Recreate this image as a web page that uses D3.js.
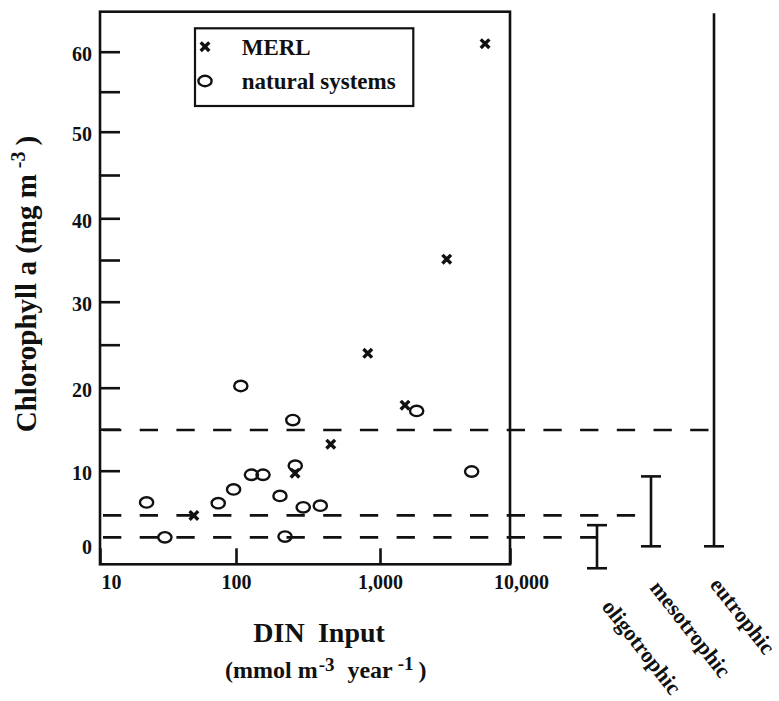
<!DOCTYPE html>
<html>
<head>
<meta charset="utf-8">
<script src="https://cdn.jsdelivr.net/npm/d3@7"></script>
<style>
  html, body { margin: 0; padding: 0; background: #fff; }
  svg { display: block; }
  svg text { font-family: "Liberation Serif", "Times New Roman", serif; font-weight: bold; }
</style>
</head>
<body>
<svg id="chart" width="779" height="701"></svg>
<script>
// DIN input (mmol m-3 yr-1) against chlorophyll a (mg m-3)
const merlDIN = [49, 257, 455, 822, 1557, 3260, 6430];
const merlChl = [4.5, 9.7, 13.2, 24.0, 17.9, 35.1, 61.0];

const naturalDIN = [22, 30, 74, 96, 108, 128, 154, 202, 219, 248, 258, 293, 385, 1914, 5070];
const naturalChl = [6.1, 1.8, 6.0, 7.7, 20.2, 9.5, 9.5, 6.9, 1.9, 16.1, 10.6, 5.5, 5.7, 17.2, 9.9];

// Trophic classes: mean chlorophyll (dashed) and range (bars)
const trophicClasses = ["oligotrophic", "mesotrophic", "eutrophic"];
const trophicMean = [1.8, 4.5, 14.9];
const trophicLow = [-2.0, 0.7, 0.7];
const trophicHigh = [3.3, 9.3, 64.8];

const xTicks = [10, 100, 1000, 10000];
const xTickLabels = ["10", "100", "1,000", "10,000"];
const yMajorTicks = [0, 10, 20, 30, 40, 50, 60];
const yMinorTicks = [15, 25, 35, 45, 55];

const legendLabels = ["MERL", "natural systems"];

// ---- layout ----
const FONT = '"Liberation Serif", "Times New Roman", serif';
const frame = { left: 100, right: 510, top: 11.7, bottom: 564.3 };
const barX = [597, 651, 714];
const labelShift = [[6, -3], [0, 0], [-3, -3]];
const ink = "#111";

const svg = d3.select("#chart");

// hand-ruled axes: piecewise scales follow the printed tick positions
const x = d3.scaleLog()
  .domain([10, 100, 1000, 10000])
  .range([100, 236, 380, 510]);
const y = d3.scaleLinear()
  .domain([0, 10, 20, 30, 40, 50, 60])
  .range([552, 470.7, 387.7, 301.7, 218.3, 131.7, 51.7]);

// plot frame
svg.append("rect")
  .attr("x", frame.left).attr("y", frame.top)
  .attr("width", frame.right - frame.left)
  .attr("height", frame.bottom - frame.top)
  .attr("fill", "none").attr("stroke", ink).attr("stroke-width", 2.6);

// y axis (ticks point inward)
const yAxis = svg.append("g")
  .attr("transform", `translate(${frame.left},0)`)
  .call(d3.axisLeft(y).tickValues(yMajorTicks).tickSize(-20).tickPadding(8))
  .attr("font-family", FONT);
yAxis.select(".domain").remove();
yAxis.selectAll(".tick line").attr("stroke", ink).attr("stroke-width", 2.6)
  .filter(d => d === 0).remove();
yAxis.selectAll(".tick text")
  .attr("font-family", FONT).attr("font-weight", "bold")
  .attr("font-size", 20).attr("fill", ink)
  .attr("dy", d => d === 0 ? "0.07em" : "0.45em");

const yMinor = svg.append("g")
  .attr("transform", `translate(${frame.left},0)`)
  .call(d3.axisLeft(y).tickValues(yMinorTicks).tickSize(-20).tickFormat(""));
yMinor.select(".domain").remove();
yMinor.selectAll(".tick line").attr("stroke", ink).attr("stroke-width", 2.6);

// x axis
const xAxis = svg.append("g")
  .attr("transform", `translate(0,${frame.bottom})`)
  .call(d3.axisBottom(x).tickValues(xTicks)
    .tickFormat((d, i) => xTickLabels[i]).tickSize(-16).tickPadding(11))
  .attr("font-family", FONT);
xAxis.select(".domain").remove();
xAxis.selectAll(".tick line").attr("stroke", ink).attr("stroke-width", 2.6);
xAxis.selectAll(".tick text")
  .attr("font-family", FONT).attr("font-weight", "bold")
  .attr("font-size", 20).attr("fill", ink)
  .attr("dx", (d, i) => (i === 0 || i === xTicks.length - 1) ? 11 : 0);

// dashed class means, running out to each class bar
const classes = trophicClasses.map((name, i) => ({
  name, mean: trophicMean[i], low: trophicLow[i], high: trophicHigh[i],
  bx: barX[i], shift: labelShift[i]
}));

svg.append("g").selectAll("line")
  .data(classes).join("line")
  .attr("x1", frame.left).attr("x2", d => d.bx)
  .attr("y1", d => y(d.mean)).attr("y2", d => y(d.mean))
  .attr("stroke", ink).attr("stroke-width", 2.6)
  .attr("stroke-dasharray", "18.3 18.4")
  .attr("stroke-dashoffset", 33.7);

// class range bars
const bars = svg.append("g").selectAll("g")
  .data(classes).join("g");
bars.append("line")
  .attr("x1", d => d.bx).attr("x2", d => d.bx)
  .attr("y1", d => y(d.high)).attr("y2", d => y(d.low))
  .attr("stroke", ink).attr("stroke-width", 2.6);
bars.append("line")
  .attr("x1", d => d.bx - 10).attr("x2", d => d.bx + 10)
  .attr("y1", d => y(d.low)).attr("y2", d => y(d.low))
  .attr("stroke", ink).attr("stroke-width", 2.6);
bars.filter(d => d.high < 60).append("line")
  .attr("x1", d => d.bx - 10).attr("x2", d => d.bx + 10)
  .attr("y1", d => y(d.high)).attr("y2", d => y(d.high))
  .attr("stroke", ink).attr("stroke-width", 2.6);
bars.append("text")
  .attr("transform", d =>
    `translate(${d.bx + 4 + d.shift[0]},${y(d.low) + 37 + d.shift[1]}) rotate(52)`)
  .attr("dominant-baseline", "central")
  .attr("font-family", FONT).attr("font-weight", "bold")
  .attr("font-size", 22).attr("fill", ink)
  .text(d => d.name);

// markers
const crossPath = "M-4.3,-4.3L4.3,4.3M-4.3,4.3L4.3,-4.3";
function drawCircle(sel) {
  sel.append("ellipse").attr("rx", 6.6).attr("ry", 5.2)
    .attr("fill", "none").attr("stroke", ink).attr("stroke-width", 2.4);
}
function drawCross(sel) {
  sel.append("path").attr("d", crossPath)
    .attr("fill", "none").attr("stroke", ink).attr("stroke-width", 3.4);
}

const natural = naturalDIN.map((d, i) => ({ din: d, chl: naturalChl[i] }));
const merl = merlDIN.map((d, i) => ({ din: d, chl: merlChl[i] }));

svg.append("g").selectAll("g")
  .data(natural).join("g")
  .attr("transform", d => `translate(${x(d.din)},${y(d.chl)})`)
  .call(drawCircle);

svg.append("g").selectAll("g")
  .data(merl).join("g")
  .attr("transform", d => `translate(${x(d.din)},${y(d.chl)})`)
  .call(drawCross);

// legend
const legend = svg.append("g");
legend.append("rect")
  .attr("x", 195).attr("y", 28.3).attr("width", 218.3).attr("height", 77.7)
  .attr("fill", "#fff").attr("stroke", ink).attr("stroke-width", 2.2);
const legendRows = legend.selectAll("g.row")
  .data(legendLabels).join("g").attr("class", "row")
  .attr("transform", (d, i) => `translate(205,${46.7 + i * 34.3})`);
legendRows.filter((d, i) => i === 0).call(drawCross);
legendRows.filter((d, i) => i === 1).call(drawCircle);
legendRows.append("text")
  .attr("x", 36.7).attr("y", 8.3)
  .attr("font-family", FONT).attr("font-weight", "bold")
  .attr("font-size", 23).attr("fill", ink)
  .text(d => d);

// axis titles
const yTitle = svg.append("text")
  .attr("transform", "translate(36,284) rotate(-90)")
  .attr("text-anchor", "middle")
  .attr("font-family", FONT).attr("font-weight", "bold")
  .attr("font-size", 29).attr("fill", ink);
yTitle.append("tspan").text("Chlorophyll a (mg m");
yTitle.append("tspan").attr("font-size", 20).attr("dx", 6).attr("dy", -11).text("-3");
yTitle.append("tspan").attr("dx", 6).attr("dy", 11).text(")");

const xTitle = svg.append("text")
  .attr("x", 253.3).attr("y", 641.7)
  .attr("font-family", FONT).attr("font-weight", "bold")
  .attr("font-size", 28).attr("fill", ink);
xTitle.append("tspan").text("DIN");
xTitle.append("tspan").attr("dx", 13.3).text("Input");

const xSub = svg.append("text")
  .attr("x", 225).attr("y", 678.3)
  .attr("font-family", FONT).attr("font-weight", "bold")
  .attr("font-size", 24).attr("fill", ink);
xSub.append("tspan").text("(mmol m");
xSub.append("tspan").attr("font-size", 19).attr("dx", 1).attr("dy", -7).text("-3");
xSub.append("tspan").attr("dx", 13).attr("dy", 7).text("year");
xSub.append("tspan").attr("font-size", 19).attr("dx", 5).attr("dy", -8).text("-1");
xSub.append("tspan").attr("dx", 5).attr("dy", 8).text(")");
</script>
</body>
</html>
